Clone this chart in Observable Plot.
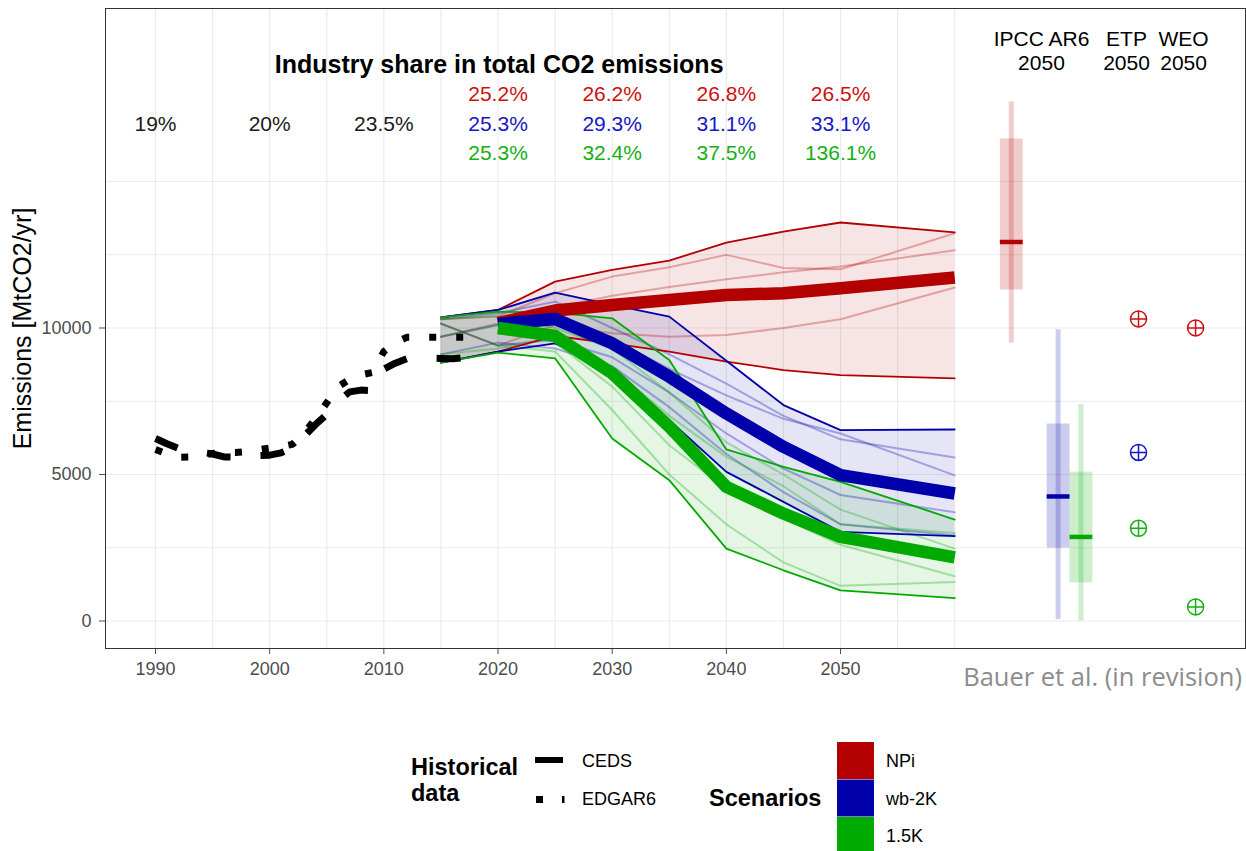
<!DOCTYPE html>
<html><head><meta charset="utf-8">
<script src="https://cdn.jsdelivr.net/npm/d3@7"></script>
<script src="https://cdn.jsdelivr.net/npm/@observablehq/plot@0.6"></script>
<style>
body{margin:0;background:#fff;font-family:"Liberation Sans",Arial,sans-serif;}
#wrap{position:relative;width:1246px;height:851px;overflow:hidden;background:#fff;}
#wrap svg.overlay{position:absolute;left:0;top:0;pointer-events:none;}
</style></head><body><div id="wrap"></div>
<script>
// ---------- data ----------
const scenarios = ["NPi", "wb-2K", "1.5K"];
const lineColors = ["#b30000", "#0000aa", "#00aa00"];
const textColors = ["#cc1010", "#1616c4", "#14b014"];

const years = [2015, 2020, 2025, 2030, 2035, 2040, 2045, 2050, 2060];

const npiMax    = [10365, 10615, 11584, 11982, 12300, 12916, 13290, 13600, 13260];
const npiMin    = [8816, 9192, 9727, 9477, 9192, 8850, 8565, 8394, 8280];
const npiMedian = [null, 10170, 10597, 10786, 10957, 11128, 11185, 11356, 11720];
const npiModel1 = [10300, 10400, 11185, 11754, 12073, 12495, 12050, 12005, 13235];
const npiModel2 = [9700, 10150, 10700, 11100, 11400, 11660, 11900, 12100, 12650];
const npiModel3 = [10150, 9400, 10100, 9818, 9704, 9761, 10000, 10296, 11380];

const wbMax    = [10365, 10615, 11208, 10790, 10388, 8880, 7369, 6515, 6535];
const wbMin    = [8816, 9192, 9477, 8622, 6850, 5091, 4066, 3041, 2900];
const wbMedian = [null, 10137, 10307, 9477, 8338, 7085, 5946, 4977, 4350];
const wbModel1 = [10300, 10500, 10900, 10000, 9100, 8100, 7000, 6200, 5580];
const wbModel2 = [9700, 10100, 10200, 9600, 8600, 7700, 6900, 6400, 4970];
const wbModel3 = [10150, 9400, 9600, 9000, 7800, 6400, 5200, 4300, 3710];
const wbModel4 = [9100, 9500, 9300, 8700, 7300, 5700, 4400, 3300, 2920];

const k15Max    = [10365, 10558, 10524, 10330, 8907, 5855, 5262, 4750, 3463];
const k15Min    = [8816, 9158, 8964, 6230, 4807, 2472, 1731, 1048, 780];
const k15Median = [null, 10000, 9730, 8451, 6629, 4579, 3667, 2870, 2170];
const k15Model1 = [10300, 10400, 10000, 9300, 7800, 6100, 5000, 3800, 2470];
const k15Model2 = [9700, 10100, 9500, 8000, 6000, 4500, 3500, 2600, 1530];
const k15Model3 = [10150, 9400, 9200, 7200, 5000, 3300, 2000, 1200, 1330];
const k15Model4 = [9100, 9300, 9700, 8600, 7000, 5600, 4600, 3300, 3000];

const histYears = [1990,1991,1992,1993,1994,1995,1996,1997,1998,1999,2000,2001,2002,2003,2004,2005,2006,2007,2008,2009,2010,2011,2012,2013,2014,2015,2016,2017];
const ceds  = [6230,6050,5890,5800,5760,5700,5600,5590,5620,5650,5660,5740,5900,6300,6700,7050,7500,7820,7880,7860,8600,8800,8950,8980,8970,8960,8950,8990];
const edgar = [5850,5700,5590,5600,5650,5720,5750,5750,5780,5850,5900,5950,6030,6400,6900,7450,8000,8250,8400,8480,9200,9500,9680,9680,9680,9680,9680,9680];

// IPCC AR6 2050 ranges (min, q1, median, q3, max) per scenario
const ipccMin    = [9488, 50, 0];
const ipccQ1     = [11297, 2491, 1300];
const ipccMedian = [12935, 4250, 2870];
const ipccQ3     = [16450, 6723, 5080];
const ipccMax    = [17713, 9940, 7385];

const etpValues = [10311, 5751, 3164];
const weoScenarios = ["NPi", "1.5K"];
const weoValues = [10003, 480];

// Industry share annotations
const histShareYears = [1990, 2000, 2010];
const histShare = ["19%", "20%", "23.5%"];
const shareYears = [2020, 2030, 2040, 2050];
const npiShare = ["25.2%", "26.2%", "26.8%", "26.5%"];
const wbShare  = ["25.3%", "29.3%", "31.1%", "33.1%"];
const k15Share = ["25.3%", "32.4%", "37.5%", "136.1%"];

// ---------- build tables ----------
const scenData = [
  {s: "NPi", max: npiMax, min: npiMin, med: npiMedian, models: [npiModel1, npiModel2, npiModel3], share: npiShare},
  {s: "wb-2K", max: wbMax, min: wbMin, med: wbMedian, models: [wbModel1, wbModel2, wbModel3, wbModel4], share: wbShare},
  {s: "1.5K", max: k15Max, min: k15Min, med: k15Median, models: [k15Model1, k15Model2, k15Model3, k15Model4], share: k15Share}
];
const toRows = (s, id, arr) => years.map((y, i) => ({scenario: s, id, year: y, value: arr[i]})).filter(d => d.value != null);
const ribbons = scenData.flatMap(d => years.map((y, i) => ({scenario: d.s, year: y, lo: d.min[i], hi: d.max[i]})));
const modelLines = scenData.flatMap(d => d.models.flatMap((m, j) => toRows(d.s, d.s + "-m" + j, m)));
const boundLines = scenData.flatMap(d => [...toRows(d.s, d.s + "-max", d.max), ...toRows(d.s, d.s + "-min", d.min)]);
const medianLines = scenData.flatMap(d => toRows(d.s, d.s + "-med", d.med));
const histCeds = histYears.map((y, i) => ({year: y, value: ceds[i]}));
const histEdgar = histYears.map((y, i) => ({year: y, value: edgar[i]}));

// positions of the right-hand comparison columns on the x scale
const ipccPos = {"NPi": 2065, "wb-2K": 2069.1, "1.5K": 2071.1};
const etpPos = 2076.1, weoPos = 2081.1;
const ipcc = scenarios.map((s, i) => ({scenario: s, x: ipccPos[s], min: ipccMin[i], q1: ipccQ1[i], med: ipccMedian[i], q3: ipccQ3[i], max: ipccMax[i]}));
const markers = [
  ...scenarios.map((s, i) => ({scenario: s, x: etpPos, value: etpValues[i]})),
  ...weoScenarios.map((s, i) => ({scenario: s, x: weoPos, value: weoValues[i]}))
];
const rowY = {"NPi": 17970, "wb-2K": 16945, "1.5K": 15956};
const shareText = [
  ...histShareYears.map((y, i) => ({year: y, y: rowY["wb-2K"], text: histShare[i], color: "#1a1a1a"})),
  ...scenData.flatMap((d, k) => shareYears.map((y, i) => ({year: y, y: rowY[d.s], text: d.share[i], color: textColors[k]})))
];
const tcol = s => textColors[scenarios.indexOf(s)];

const circlePlus = {
  draw(context, size) {
    const r = Math.sqrt(size / Math.PI);
    context.moveTo(r, 0);
    context.arc(0, 0, r, 0, 2 * Math.PI);
    context.moveTo(-r, 0); context.lineTo(r, 0);
    context.moveTo(0, -r); context.lineTo(0, r);
  }
};

const gridX = [1990,1995,2000,2005,2010,2015,2020,2025,2030,2035,2040,2045,2050,2055,2060];
const gridY = [0,2500,5000,7500,10000,12500,15000];

const chart = Plot.plot({
  width: 1246, height: 700,
  marginLeft: 105, marginRight: 1, marginTop: 8, marginBottom: 52,
  style: {fontFamily: "'Liberation Sans', Arial, sans-serif", background: "#fff", overflow: "visible"},
  x: {domain: [1985.62, 2085.47]},
  y: {domain: [-938.6, 20904]},
  color: {domain: scenarios, range: lineColors},
  marks: [
    Plot.ruleX(gridX, {stroke: "#ebebeb", strokeWidth: 1.2}),
    Plot.ruleY(gridY, {stroke: "#ebebeb", strokeWidth: 1.2}),
    Plot.areaY(ribbons, {x: "year", y1: "lo", y2: "hi", z: "scenario", fill: "scenario", fillOpacity: 0.1}),
    Plot.line(modelLines, {x: "year", y: "value", z: "id", stroke: "scenario", strokeOpacity: 0.3, strokeWidth: 2}),
    Plot.line(boundLines, {x: "year", y: "value", z: "id", stroke: "scenario", strokeWidth: 1.8}),
    Plot.line(medianLines, {x: "year", y: "value", z: "id", stroke: "scenario", strokeWidth: 12.5, strokeLinecap: "butt", strokeLinejoin: "round"}),
    Plot.line(histCeds, {x: "year", y: "value", stroke: "#000", strokeWidth: 7, strokeDasharray: "24,30", strokeLinecap: "butt"}),
    Plot.line(histEdgar, {x: "year", y: "value", stroke: "#000", strokeWidth: 7, strokeDasharray: "7,20", strokeLinecap: "butt"}),
    // IPCC AR6 2050 ranges
    Plot.rect(ipcc, {x1: d => d.x - 0.22, x2: d => d.x + 0.22, y1: "min", y2: "max", fill: "scenario", fillOpacity: 0.2}),
    Plot.rect(ipcc, {x1: d => d.x - 1.0, x2: d => d.x + 1.0, y1: "q1", y2: "q3", fill: "scenario", fillOpacity: 0.2}),
    Plot.ruleY(ipcc, {y: "med", x1: d => d.x - 1.0, x2: d => d.x + 1.0, stroke: "scenario", strokeWidth: 4.5}),
    // ETP / WEO
    Plot.dot(markers, {x: "x", y: "value", r: 8, symbol: circlePlus, fill: "none", stroke: d => tcol(d.scenario), strokeWidth: 1.5}),
    // annotations
    Plot.text(shareText, {x: "year", y: "y", text: "text", fill: "color", fontSize: 21}),
    Plot.text(["Industry share in total CO2 emissions"], {x: 2020.1, y: 18959, fontSize: 25, fontWeight: "bold", fill: "#000"}),
    Plot.text(["IPCC AR6\n2050"], {x: 2067.6, y: 19471, fontSize: 21, lineHeight: 1.14, fill: "#000"}),
    Plot.text(["ETP\n2050"], {x: 2075.05, y: 19471, fontSize: 21, lineHeight: 1.14, fill: "#000"}),
    Plot.text(["WEO\n2050"], {x: 2080.05, y: 19471, fontSize: 21, lineHeight: 1.14, fill: "#000"}),
    Plot.text(["Emissions [MtCO2/yr]"], {frameAnchor: "left", dx: -83, rotate: -90, textAnchor: "middle", fontSize: 25, fill: "#000"}),
    // axes
    Plot.axisX({ticks: [1990,2000,2010,2020,2030,2040,2050], tickFormat: d => String(d), tickSize: 6, tickPadding: 8, fontSize: 18, color: "#4d4d4d", label: null}),
    Plot.axisY({ticks: [0,5000,10000], tickFormat: d => String(d), tickSize: 6, tickPadding: 8, fontSize: 18, color: "#4d4d4d", label: null}),
    Plot.frame({stroke: "#333", strokeWidth: 1})
  ]
});
const wrap = document.getElementById("wrap");
wrap.appendChild(chart);

// ---------- legend & caption ----------
const legendLabels = scenarios;
const ns = "http://www.w3.org/2000/svg";
const ov = document.createElementNS(ns, "svg");
ov.setAttribute("class", "overlay");
ov.setAttribute("width", 1246); ov.setAttribute("height", 851);
let html = "";
html += `<text x="1242" y="686" text-anchor="end" font-family="'Open Sans', sans-serif" font-size="25.5" fill="#8c8c8c">Bauer et al. (in revision)</text>`;
html += `<text x="411" y="775" font-family="'Liberation Sans', Arial" font-weight="bold" font-size="23.5" fill="#000">Historical</text>`;
html += `<text x="411" y="801" font-family="'Liberation Sans', Arial" font-weight="bold" font-size="23.5" fill="#000">data</text>`;
html += `<line x1="535" x2="563" y1="760" y2="760" stroke="#000" stroke-width="6"/>`;
html += `<rect x="536" y="796" width="7" height="7" fill="#000"/><rect x="562" y="796" width="2.5" height="7" fill="#000"/>`;
html += `<text x="582" y="767" font-family="'Liberation Sans', Arial" font-size="18" fill="#000">CEDS</text>`;
html += `<text x="582" y="805" font-family="'Liberation Sans', Arial" font-size="18" fill="#000">EDGAR6</text>`;
html += `<text x="709" y="806" font-family="'Liberation Sans', Arial" font-weight="bold" font-size="23.5" fill="#000">Scenarios</text>`;
legendLabels.forEach((s, i) => {
  const y0 = 742 + i * 37.5;
  html += `<rect x="837" y="${y0}" width="37" height="37" fill="${lineColors[i]}"/>`;
  html += `<text x="886" y="${y0 + 25}" font-family="'Liberation Sans', Arial" font-size="18" fill="#000">${s}</text>`;
});
ov.innerHTML = html;
wrap.appendChild(ov);
</script></body></html>
